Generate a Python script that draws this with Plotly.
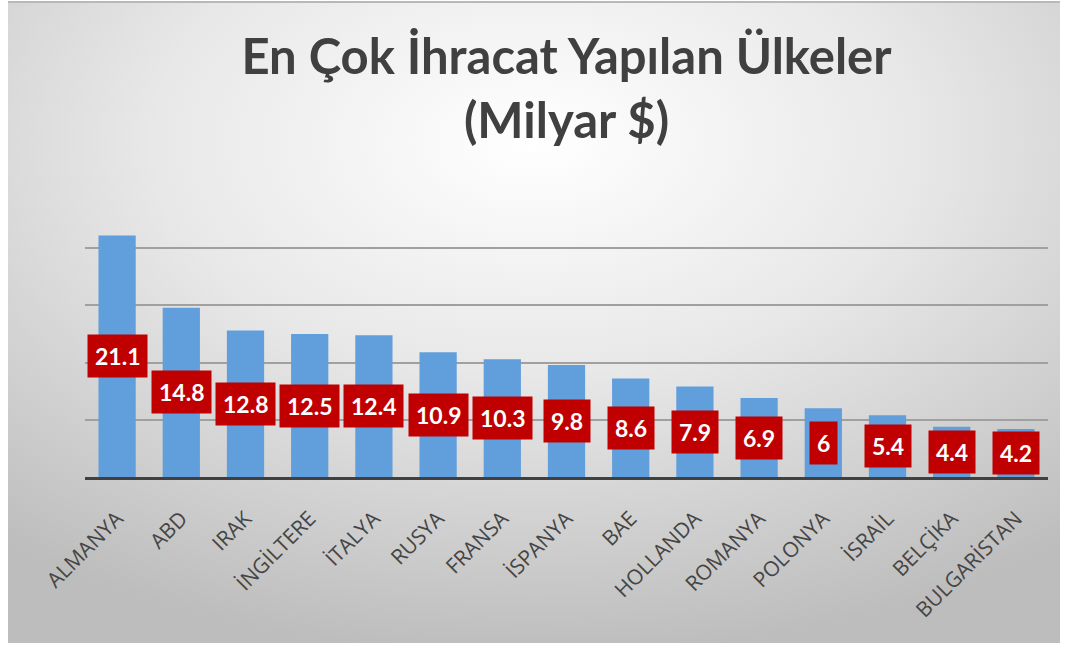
import base64
import plotly.graph_objects as go

countries = ["ALMANYA", "ABD", "IRAK", "İNGİLTERE", "İTALYA", "RUSYA", "FRANSA",
             "İSPANYA", "BAE", "HOLLANDA", "ROMANYA", "POLONYA", "İSRAİL", "BELÇİKA",
             "BULGARİSTAN"]
exports = [21.1, 14.8, 12.8, 12.5, 12.4, 10.9, 10.3, 9.8, 8.6, 7.9, 6.9, 6, 5.4, 4.4, 4.2]
value_labels = ["21.1", "14.8", "12.8", "12.5", "12.4", "10.9", "10.3", "9.8", "8.6",
                "7.9", "6.9", "6", "5.4", "4.4", "4.2"]

W, H = 1066, 645
L, R, T, B = 85, 18, 191, 168
plot_w = W - L - R
plot_h = H - T - B

svg = ('<svg xmlns="http://www.w3.org/2000/svg" width="1052" height="642" preserveAspectRatio="none">'
       '<defs><radialGradient id="g" cx="50%" cy="22%" r="80%" fx="50%" fy="22%">'
       '<stop offset="0%" stop-color="#ffffff"/>'
       '<stop offset="45%" stop-color="#e8e8e8"/>'
       '<stop offset="100%" stop-color="#bdbdbd"/>'
       '</radialGradient></defs>'
       '<rect width="1052" height="642" fill="url(#g)"/>'
       '<rect x="0" y="0" width="1052" height="2" fill="#b8b8b8"/>'
       '</svg>')
src = "data:image/svg+xml;base64," + base64.b64encode(svg.encode()).decode()

fig = go.Figure()
fig.add_trace(go.Bar(
    x=countries, y=exports,
    marker=dict(color="#609FDB", line=dict(width=0)),
    hoverinfo="x+y",
))

for c, v, t in zip(countries, exports, value_labels):
    fig.add_annotation(
        x=c, y=v / 2, text="<b>%s</b>" % t, showarrow=False,
        font=dict(family="Lato", size=23, color="#ffffff"),
        bgcolor="#C00000", borderpad=7, xanchor="center", yanchor="middle",
    )

fig.add_layout_image(dict(
    source=src, xref="paper", yref="paper",
    x=(8 - L) / plot_w, y=1 + (T - 1) / plot_h,
    sizex=1052 / plot_w, sizey=642 / plot_h,
    xanchor="left", yanchor="top", sizing="stretch", layer="below",
))

fig.update_layout(
    width=W, height=H,
    margin=dict(l=L, r=R, t=T, b=B),
    paper_bgcolor="#ffffff", plot_bgcolor="rgba(0,0,0,0)",
    bargap=0.42, showlegend=False,
    title=dict(
        text="<b>En Çok İhracat Yapılan Ülkeler<br>(Milyar $)</b>",
        x=0.5, xanchor="center", xref="paper",
        y=1 - 74 / H, yanchor="middle",
        font=dict(family="Lato", size=49, color="#404040"),
    ),
    xaxis=dict(
        tickangle=-45, tickfont=dict(family="Open Sans", size=21, color="#454545"),
        ticklabelstandoff=18,
        showgrid=False, showline=True, linecolor="#404040", linewidth=3,
        ticks="", fixedrange=True,
    ),
    yaxis=dict(
        range=[0, 25], dtick=5, showgrid=True, gridcolor="#a0a0a0", gridwidth=2,
        showticklabels=False, zeroline=False, ticks="", fixedrange=True,
    ),
)

fig.write_html("out.html", config={"displayModeBar": False},
               post_script="document.body.style.margin='0';")
